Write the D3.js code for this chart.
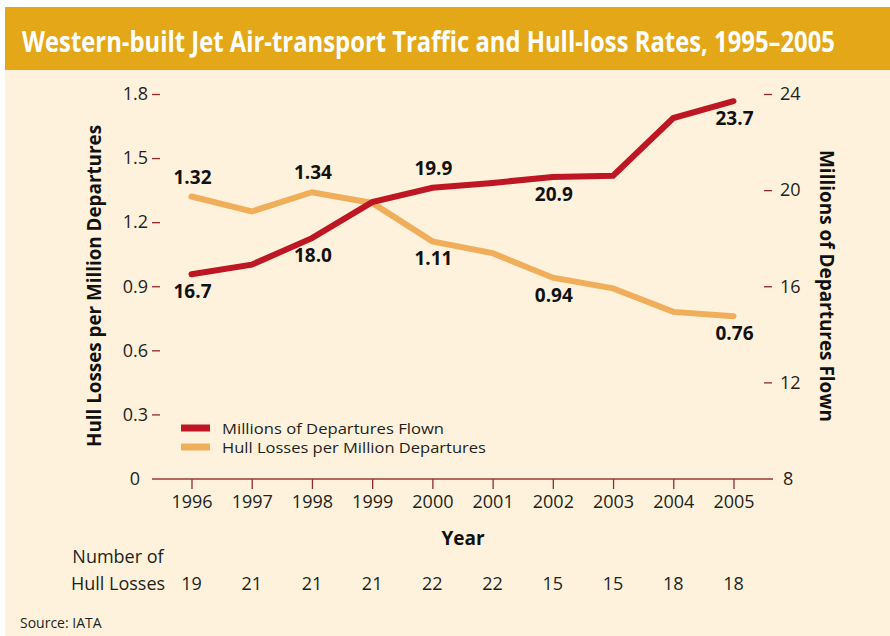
<!DOCTYPE html>
<html>
<head>
<meta charset="utf-8">
<style>
  body { margin: 0; background: #fff; }
  svg { display: block; font-family: "Open Sans", sans-serif; }
  .lbl { font-weight: bold; font-size: 19px; fill: #111; text-anchor: middle; }
  .tick text { font-size: 18px; fill: #231f20; font-family: "Open Sans", sans-serif; }
  .tick line { stroke: #8e2a2a; stroke-width: 1.3px; }
</style>
</head>
<body>
<div id="chart"></div>
<script src="https://cdn.jsdelivr.net/npm/d3@7"></script>
<script>
  var width = 890, height = 636;

  // data
  var years = [1996, 1997, 1998, 1999, 2000, 2001, 2002, 2003, 2004, 2005];
  var departures = [16.5, 16.9, 18.0, 19.5, 20.1, 20.3, 20.55, 20.6, 23.0, 23.7];
  var hullRate = [1.32, 1.25, 1.34, 1.29, 1.11, 1.055, 0.94, 0.89, 0.78, 0.76];
  var hullLosses = [19, 21, 21, 21, 22, 22, 15, 15, 18, 18];
  var leftTicks = [0, 0.3, 0.6, 0.9, 1.2, 1.5, 1.8];
  var rightTicks = [8, 12, 16, 20, 24];

  // point labels: year index, text, above/below
  var depLabels = [[0, "16.7", "below"], [2, "18.0", "below"], [4, "19.9", "above"], [6, "20.9", "below"], [9, "23.7", "below"]];
  var rateLabels = [[0, "1.32", "above"], [2, "1.34", "above"], [4, "1.11", "below"], [6, "0.94", "below"], [9, "0.76", "below"]];

  var red = "#be1622", orange = "#f0ae5b", maroon = "#9a3a36";

  var svg = d3.select("#chart").append("svg")
      .attr("width", width)
      .attr("height", height);

  // background panels
  svg.append("rect").attr("x", 5).attr("y", 70).attr("width", 885).attr("height", 566).attr("fill", "#fef2dc");
  svg.append("rect").attr("x", 5).attr("y", 7).attr("width", 885).attr("height", 63).attr("fill", "#e4a717");
  // condensed-looking title: smaller font stretched vertically
  svg.append("text")
      .attr("transform", "translate(22,52) scale(1,1.4)")
      .attr("fill", "#fff")
      .style("font-weight", "bold").style("font-size", "20px")
      .attr("textLength", 813).attr("lengthAdjust", "spacingAndGlyphs")
      .text("Western-built Jet Air-transport Traffic and Hull-loss Rates, 1995\u20132005");

  var x = d3.scaleLinear().domain([1996, 2005]).range([191.5, 733.5]);
  var yL = d3.scaleLinear().domain([0, 1.8]).range([478.5, 94]);
  var yR = d3.scaleLinear().domain([8, 24]).range([478.5, 94]);

  // left axis
  var gL = svg.append("g").attr("transform", "translate(160,0)")
      .call(d3.axisLeft(yL).tickValues(leftTicks).tickSize(8).tickPadding(4)
        .tickFormat(function(d) { return d === 0 ? "0" : d3.format(".1f")(d); }));
  gL.select(".domain").remove();
  gL.selectAll(".tick").filter(function(d) { return d === 0; })
      .call(function(t) { t.select("line").remove(); t.select("text").attr("x", -20); });

  // right axis
  var gR = svg.append("g").attr("transform", "translate(764,0)")
      .call(d3.axisRight(yR).tickValues(rightTicks).tickSize(8).tickPadding(8));
  gR.select(".domain").remove();
  gR.selectAll(".tick").filter(function(d) { return d === 8; })
      .call(function(t) { t.select("line").remove(); t.select("text").attr("x", 19); });

  // x axis
  var gX = svg.append("g").attr("transform", "translate(0,479)")
      .call(d3.axisBottom(x).tickValues(years).tickSize(10).tickPadding(6).tickFormat(d3.format("d")));
  gX.select(".domain").remove();
  gX.append("line").attr("x1", 152).attr("x2", 773).attr("stroke", maroon).attr("stroke-width", 1.6);

  // axis titles
  svg.append("text")
      .attr("transform", "translate(101,286) rotate(-90)")
      .attr("text-anchor", "middle")
      .style("font-weight", "bold").style("font-size", "19px").attr("fill", "#111")
      .attr("textLength", 322).attr("lengthAdjust", "spacingAndGlyphs")
      .text("Hull Losses per Million Departures");
  svg.append("text")
      .attr("transform", "translate(820,286) rotate(90)")
      .attr("text-anchor", "middle")
      .style("font-weight", "bold").style("font-size", "19px").attr("fill", "#111")
      .attr("textLength", 272).attr("lengthAdjust", "spacingAndGlyphs")
      .text("Millions of Departures Flown");
  svg.append("text")
      .attr("x", 463).attr("y", 545)
      .attr("text-anchor", "middle")
      .style("font-weight", "bold").style("font-size", "19px").attr("fill", "#111")
      .text("Year");

  // lines
  var lineR = d3.line().x(function(d, i) { return x(years[i]); }).y(function(d) { return yR(d); });
  var lineL = d3.line().x(function(d, i) { return x(years[i]); }).y(function(d) { return yL(d); });

  svg.append("path").attr("d", lineL(hullRate))
      .attr("fill", "none").attr("stroke", orange).attr("stroke-width", 6)
      .attr("stroke-linecap", "round");
  svg.append("path").attr("d", lineR(departures))
      .attr("fill", "none").attr("stroke", red).attr("stroke-width", 6)
      .attr("stroke-linecap", "round");

  // point labels
  function addLabels(list, values, scale) {
    svg.selectAll(null).data(list).enter().append("text")
        .attr("class", "lbl")
        .attr("x", function(d) { return x(years[d[0]]) + 1; })
        .attr("y", function(d) { return scale(values[d[0]]) + (d[2] === "above" ? -13 : 24); })
        .text(function(d) { return d[1]; });
  }
  addLabels(depLabels, departures, yR);
  addLabels(rateLabels, hullRate, yL);

  // legend
  var legend = [["Millions of Departures Flown", red], ["Hull Losses per Million Departures", orange]];
  var lg = svg.selectAll(".leg").data(legend).enter().append("g")
      .attr("transform", function(d, i) { return "translate(181," + (428 + i * 19) + ")"; });
  lg.append("rect").attr("x", 0).attr("y", -3.5).attr("width", 29).attr("height", 7)
      .attr("fill", function(d) { return d[1]; });
  lg.append("text").attr("x", 41).attr("y", 5.5)
      .style("font-size", "15px").attr("fill", "#231f20")
      .attr("textLength", function(d, i) { return i === 0 ? 222 : 264; })
      .attr("lengthAdjust", "spacingAndGlyphs")
      .text(function(d) { return d[0]; });

  // hull losses table
  svg.append("text").attr("x", 118).attr("y", 563).attr("text-anchor", "middle")
      .style("font-size", "18px").attr("fill", "#231f20").text("Number of");
  svg.append("text").attr("x", 118).attr("y", 590).attr("text-anchor", "middle")
      .style("font-size", "18px").attr("fill", "#231f20").text("Hull Losses");
  svg.selectAll(".hl").data(hullLosses).enter().append("text")
      .attr("x", function(d, i) { return x(years[i]); })
      .attr("y", 590)
      .attr("text-anchor", "middle")
      .style("font-size", "18px").attr("fill", "#231f20")
      .text(function(d) { return d; });

  svg.append("text").attr("x", 20).attr("y", 628)
      .style("font-size", "14px").attr("fill", "#231f20").text("Source: IATA");
</script>
</body>
</html>
